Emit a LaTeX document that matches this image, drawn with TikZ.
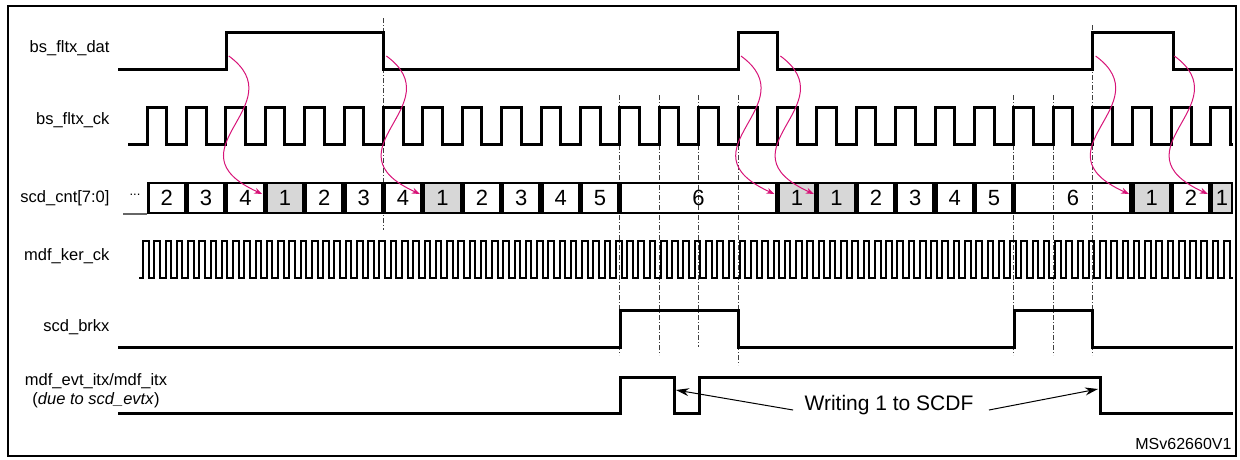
\documentclass[tikz,border=0pt]{standalone}
\usepackage{fontspec}
\setmainfont{Liberation Sans}
\usetikzlibrary{arrows.meta}
\definecolor{mag}{RGB}{215,20,120}
\definecolor{cellgray}{RGB}{215,215,215}
\begin{document}
\begin{tikzpicture}[x=1pt,y=-1pt,
  sig/.style={line width=3pt,line join=miter},
  lbl/.style={anchor=east,font=\fontsize{16.5}{19}\selectfont},
  cellbox/.style={draw,line width=2.6pt},
  cnum/.style={font=\fontsize{22}{24}\selectfont},
  ddash/.style={line width=0.8pt,black!75,dash pattern=on 5pt off 2pt on 1pt off 2pt},
  magarrow/.style={mag,line width=1pt,-{Stealth[length=8pt,width=6pt]}},
  warrow/.style={line width=1pt,-{Stealth[length=13pt,width=8pt]}}]
\useasboundingbox (0,0) rectangle (1240,459);
\draw[line width=2pt] (8,6) rectangle (1236,456);
% labels
\node[lbl] (l1) at (113,48) {bs\_fltx\_dat};
\node[lbl] (l2) at (113,120) {bs\_fltx\_ck};
\node[lbl] (l3) at (113,198) {scd\_cnt[7:0]};
\node[lbl] (l4) at (113,256) {mdf\_ker\_ck};
\node[lbl] (l5) at (113,327) {scd\_brkx};
\node[font=\fontsize{16.5}{19}\selectfont,align=center,inner sep=0pt] (l6) at (96,391) {mdf\_evt\_itx/mdf\_itx\\(\textit{due to scd\_evtx})};
\node[font=\fontsize{16}{18}\selectfont,anchor=east] (ref) at (1235,444) {MSv62660V1};
% dash-dot guides
\draw[ddash] (383,18) -- (383,230);
\draw[ddash] (1092,25) -- (1092,355);
\foreach \k/\b in {12/355,13/355,14/347,15/365,22/355,23/355}
  \draw[ddash] ({147+39.4*\k},95) -- ({147+39.4*\k},\b);
% bs_fltx_dat
\draw[sig] (118,69) -- (226,69) -- (226,32) -- (383,32) -- (383,69) -- (738,69) -- (738,32) -- (777,32) -- (777,69)
  -- (1092,69) -- (1092,32) -- (1173,32) -- (1173,69) -- (1233,69);
% bs_fltx_ck
\draw[sig] (128,144) \foreach \k in {0,...,27}{ -- ({147+39.4*\k},144) -- ({147+39.4*\k},107) -- ({166.7+39.4*\k},107) -- ({166.7+39.4*\k},144)} -- (1233,144);
% mdf_ker_ck
\draw[line width=2pt] (139,278) \foreach \i in {0,...,96}{ -- ({143+11.26*\i},278) -- ({143+11.26*\i},241) -- ({148.6+11.26*\i},241) -- ({148.6+11.26*\i},278)} -- (1233,278);
% scd_cnt
\draw[line width=1.4pt,black!60] (123,214) -- (147,214);
\node[font=\fontsize{13}{15}\selectfont] (dots) at (135,195) {...};
\foreach \a/\s/\t/\f [count=\n] in {0/1/2/white,1/1/3/white,2/1/4/white,3/1/1/cellgray,4/1/2/white,5/1/3/white,6/1/4/white,7/1/1/cellgray,8/1/2/white,9/1/3/white,10/1/4/white,11/1/5/white,12/4/6/none,16/1/1/cellgray,17/1/1/cellgray,18/1/2/white,19/1/3/white,20/1/4/white,21/1/5/white,22/3/6/none,25/1/1/cellgray,26/1/2/white}
  \node[cellbox,fill=\f,minimum width={39.4*\s-2.6},minimum height=30,inner sep=0pt,cnum] (c\n) at ({147+39.4*(\a+\s/2)},198) {\t};
\node[cellbox,fill=cellgray,minimum width=20,minimum height=30,inner sep=0pt,cnum] (c23) at (1222,198) {1};
% magenta arrows
\foreach \k in {2,6,15,16,24,26}
  \draw[magarrow] ({147+39.4*\k+3},56) .. controls ({147+39.4*\k+70},105) and ({147+39.4*\k-60},150) .. ({147+39.4*(\k+1)-3},194);
% scd_brkx
\draw[sig] (118,347) -- (620,347) -- (620,310) -- (738,310) -- (738,347) -- (1014,347) -- (1014,310) -- (1092,310) -- (1092,347) -- (1233,347);
% itx
\draw[sig] (118,413) -- (620,413) -- (620,377) -- (674,377) -- (674,413) -- (699,413) -- (699,377) -- (1100,377) -- (1100,413) -- (1233,413);
\node[font=\fontsize{21}{23}\selectfont] (wr) at (889,405) {Writing 1 to SCDF};
\coordinate (t1) at (676,390);
\coordinate (t2) at (1098,389);
\draw[warrow] (wr.west) ++(-8,5) -- (t1);
\draw[warrow] (wr.east) ++(12,5) -- (t2);
\end{tikzpicture}
\end{document}
